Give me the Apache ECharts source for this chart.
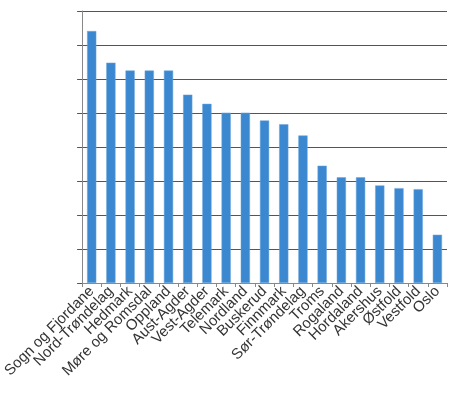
<!DOCTYPE html>
<html><head><meta charset="utf-8">
<script src="https://cdn.jsdelivr.net/npm/echarts@6/dist/echarts.min.js"></script>
<style>html,body{margin:0;padding:0;background:#fff}#c{width:450px;height:394px}</style>
</head><body><div id="c"></div>
<script>
const categories = ["Sogn og Fjordane","Nord-Trøndelag","Hedmark","Møre og Romsdal","Oppland","Aust-Agder","Vest-Agder","Telemark","Nordland","Buskerud","Finnmark","Sør-Trøndelag","Troms","Rogaland","Hordaland","Akershus","Østfold","Vestfold","Oslo"];
const values = [7.41, 6.48, 6.25, 6.25, 6.25, 5.54, 5.27, 5.01, 5.01, 4.78, 4.67, 4.34, 3.45, 3.11, 3.11, 2.87, 2.79, 2.76, 1.42];
const yMin = 0, yMax = 8, yStep = 1;

const chart = echarts.init(document.getElementById('c'), null, {renderer:'canvas'});
chart.setOption({
  animation: false,
  grid: {left: 80, right: 3, top: 11, bottom: 111, containLabel: false},
  xAxis: {
    type: 'category', data: categories,
    axisLine: {show: true, lineStyle: {color: '#888', width: 1}},
    axisTick: {show: true, length: 4, lineStyle: {color: '#888'}},
    axisLabel: {rotate: 45, interval: 0, fontSize: 15, color: '#333', margin: 6, fontFamily: 'Liberation Sans, Arial, sans-serif'}
  },
  yAxis: {
    type: 'value', min: yMin, max: yMax, interval: yStep,
    axisLine: {show: true, lineStyle: {color: '#888', width: 1}},
    axisTick: {show: true, length: 5, lineStyle: {color: '#555'}},
    axisLabel: {show: false},
    splitLine: {show: true, lineStyle: {color: '#555', width: 1}}
  },
  series: [{
    type: 'bar', data: values, barWidth: '48%',
    itemStyle: {color: '#3b88d0', borderColor: '#6aa6dd', borderWidth: 0.5}
  }]
});
</script></body></html>
